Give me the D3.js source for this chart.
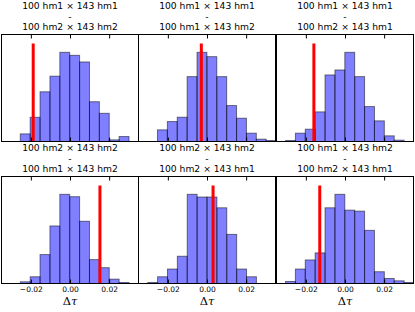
<!DOCTYPE html>
<html><head><meta charset="utf-8">
<script src="https://cdn.jsdelivr.net/npm/d3@7"></script>
<style>body{margin:0;background:#fff}svg{display:block}</style>
</head><body>
<script>
// ---- data ----
const titleA = ["100 hm1 \u00d7 143 hm1","100 hm1 \u00d7 143 hm1","100 hm1 \u00d7 143 hm1",
                "100 hm2 \u00d7 143 hm2","100 hm2 \u00d7 143 hm2","100 hm1 \u00d7 143 hm2"];
const titleB = ["100 hm2 \u00d7 143 hm2","100 hm1 \u00d7 143 hm2","100 hm2 \u00d7 143 hm1",
                "100 hm1 \u00d7 143 hm2","100 hm2 \u00d7 143 hm1","100 hm2 \u00d7 143 hm1"];
const binStarts = [-0.0254, -0.0253, -0.0304, -0.0254, -0.0303, -0.0304];
const binWidth = 0.00505;
const counts1 = [23,73,150,197,269,260,240,120,85,5,15];
const counts2 = [35,60,73,195,268,255,195,108,70,25,7,3];
const counts3 = [3,25,37,89,200,215,268,195,105,62,17,4];
const counts4 = [5,20,86,171,265,258,185,71,47,13,3];
const counts5 = [3,20,43,81,265,257,257,225,146,43,20];
const counts6 = [6,43,70,91,225,265,218,215,158,35,15,8,3];
const observed = [-0.0188, -0.0029, -0.0159, 0.0153, 0.0031, -0.0129];
const xTicks = [-0.02, 0.00, 0.02];
const xDomain = [-0.035, 0.035];
const xLabel = "\u0394";

const allCounts = [counts1,counts2,counts3,counts4,counts5,counts6];

// ---- layout ----
const W = 415, H = 312;
const colX = [1.5, 138.5, 276.5], pw = 137;
const rowY = [34.5, 176.5], ph = 107;

const svg = d3.select("body").append("svg").attr("width", W).attr("height", H);
const fmt = d => d === 0 ? "0.00" : (d < 0 ? "\u2212" : "") + Math.abs(d).toFixed(2);

allCounts.forEach((counts, i) => {
  const r = Math.floor(i / 3), c = i % 3;
  const x0 = colX[c], y0 = rowY[r];
  const x = d3.scaleLinear().domain(xDomain).range([x0, x0 + pw]);
  const ymax = d3.max(counts);
  const y = d3.scaleLinear().domain([0, ymax * 1.2]).range([y0 + ph, y0]);

  const clipId = "clip" + i;
  svg.append("clipPath").attr("id", clipId).append("rect")
    .attr("x", x0).attr("y", y0).attr("width", pw).attr("height", ph);

  const g = svg.append("g").attr("clip-path", `url(#${clipId})`);
  g.selectAll("rect.bar").data(counts).join("rect").attr("class", "bar")
    .attr("x", (d, k) => x(binStarts[i] + k * binWidth))
    .attr("width", x(binWidth) - x(0))
    .attr("y", d => y(d))
    .attr("height", d => y(0) - y(d))
    .attr("fill", "blue").attr("fill-opacity", 0.5)
    .attr("stroke", "black").attr("stroke-opacity", 0.5).attr("stroke-width", 1);

  g.append("line")
    .attr("x1", x(observed[i])).attr("x2", x(observed[i]))
    .attr("y1", y(0)).attr("y2", y(ymax * 1.1))
    .attr("stroke", "red").attr("stroke-width", 3);

  // ticks inward top & bottom
  const axB = d3.axisBottom(x).tickValues(xTicks).tickSizeInner(-4).tickSizeOuter(0)
    .tickFormat(r === 1 ? fmt : () => "").tickPadding(3.5);
  const gb = svg.append("g").attr("transform", `translate(0,${y0 + ph})`).call(axB);
  gb.select(".domain").remove();
  gb.selectAll("text").attr("font-family", "DejaVu Sans").attr("font-size", 7.5).attr("fill", "#000");
  const axT = d3.axisTop(x).tickValues(xTicks).tickSizeInner(-4).tickSizeOuter(0).tickFormat(() => "");
  const gt = svg.append("g").attr("transform", `translate(0,${y0})`).call(axT);
  gt.select(".domain").remove();

  svg.append("rect").attr("x", x0).attr("y", y0).attr("width", pw).attr("height", ph)
    .attr("fill", "none").attr("stroke", "black").attr("stroke-width", 1);

  const cx = x0 + pw / 2;
  const base = y0 - 4.5;
  const tg = svg.append("g").attr("font-family", "DejaVu Sans").attr("font-size", 9.2)
    .attr("text-anchor", "middle").attr("fill", "#000");
  tg.append("text").attr("x", cx).attr("y", base - 21).text(titleA[i]);
  tg.append("text").attr("x", cx).attr("y", base - 10.5).text("-");
  tg.append("text").attr("x", cx).attr("y", base).text(titleB[i]);

  if (r === 1) {
    const t = svg.append("text").attr("x", cx).attr("y", 305)
      .attr("text-anchor", "middle").attr("font-family", "DejaVu Serif").attr("font-size", 11.5);
    t.append("tspan").text(xLabel);
    t.append("tspan").attr("font-style", "italic").text("\u03c4");
  }
});
</script>
</body></html>
